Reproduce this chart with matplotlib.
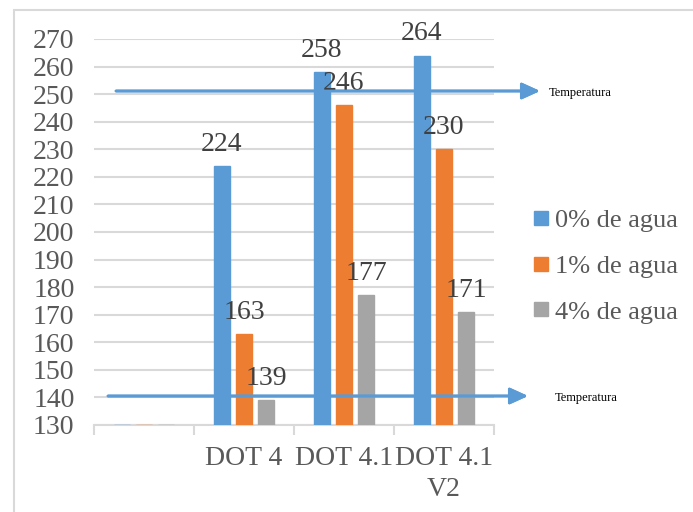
import matplotlib.pyplot as plt
from matplotlib.lines import Line2D
from matplotlib.patches import Rectangle
import numpy as np

categories = ['', 'DOT 4', 'DOT 4.1', 'DOT 4.1\nV2']
series_names = ['0% de agua', '1% de agua', '4% de agua']
agua_0 = [130, 224, 258, 264]
agua_1 = [130, 163, 246, 230]
agua_4 = [130, 139, 177, 171]
colors = ['#5B9BD5', '#ED7D31', '#A5A5A5']
y_min, y_max = 130, 270

plt.rcParams['font.family'] = ['Liberation Serif', 'DejaVu Serif']
text_gray = '#595959'
grid_gray = '#D9D9D9'

fig = plt.figure(figsize=(6.93, 5.12), dpi=100)
# outer chart border
fig.patches.append(Rectangle((14 / 693, -0.1), 1.1, 1 - 10 / 512 + 0.1,
                             transform=fig.transFigure, fill=False,
                             edgecolor=grid_gray, linewidth=1.5))

ax = fig.add_axes([94 / 693, 1 - 425 / 512, 400 / 693, 386 / 512])
x = np.arange(len(categories))
step = 0.22
width = 0.16
for i, (vals, name, c) in enumerate(zip([agua_0, agua_1, agua_4], series_names, colors)):
    pos = x + (i - 1) * step
    heights = [v - y_min for v in vals]
    ax.bar(pos, heights, width, bottom=y_min, color=c, edgecolor=c, linewidth=1, zorder=3)
    for p, v in zip(pos[1:], vals[1:]):
        ax.text(p, v + 3.3, str(v), ha='center', va='bottom', fontsize=20,
                color='#404040', zorder=4)

ax.set_xlim(-0.5, len(categories) - 0.5)
ax.set_ylim(y_min, y_max)
ax.set_yticks(range(y_min, y_max + 1, 10))
ax.yaxis.grid(True, color=grid_gray, linewidth=1.5, zorder=0)
ax.set_axisbelow(True)
for s in ['top', 'right', 'left']:
    ax.spines[s].set_visible(False)
ax.spines['bottom'].set_color(grid_gray)
ax.spines['bottom'].set_linewidth(1.5)
ax.tick_params(axis='y', length=0, labelsize=20, labelcolor=text_gray, pad=14)
ax.set_xticks(x)
ax.set_xticklabels(categories)
ax.tick_params(axis='x', which='major', length=0, labelsize=20, labelcolor=text_gray, pad=15)
ax.set_xticks(np.arange(-0.5, len(categories)), minor=True)
ax.tick_params(axis='x', which='minor', length=7, width=1.5, color=grid_gray, direction='out')
for lbl in ax.get_xticklabels():
    lbl.set_linespacing(1.3)

handles = [Line2D([0], [0], marker='s', color='w', markerfacecolor=c, markeredgecolor=c,
                  markersize=10, label=n) for c, n in zip(colors, series_names)]
leg = fig.legend(handles=handles, loc='center left', bbox_to_anchor=(533 / 693, 1 - 266 / 512),
                 frameon=False, fontsize=19, handlelength=0.6, handletextpad=0.25,
                 labelspacing=0.85, labelcolor=text_gray, borderpad=0, borderaxespad=0)

# temperature arrows
arrows = [(116, 540, 91), (108, 528, 396)]
text_x = [549, 555]
for (x0, x1, yy), tx in zip(arrows, text_x):
    fig.add_artist(plt.annotate('', xy=(x1 / 693, 1 - yy / 512), xytext=(x0 / 693, 1 - yy / 512),
                                xycoords='figure fraction', textcoords='figure fraction',
                                arrowprops=dict(arrowstyle='-|>,head_length=1.1,head_width=0.5',
                                                color='#5B9BD5', lw=2, shrinkA=0, shrinkB=0)))
    fig.text(tx / 693, 1 - (yy + 2) / 512, 'Temperatura', fontsize=9, va='center', ha='left', color='black')

fig.savefig('out.png', dpi=100)
